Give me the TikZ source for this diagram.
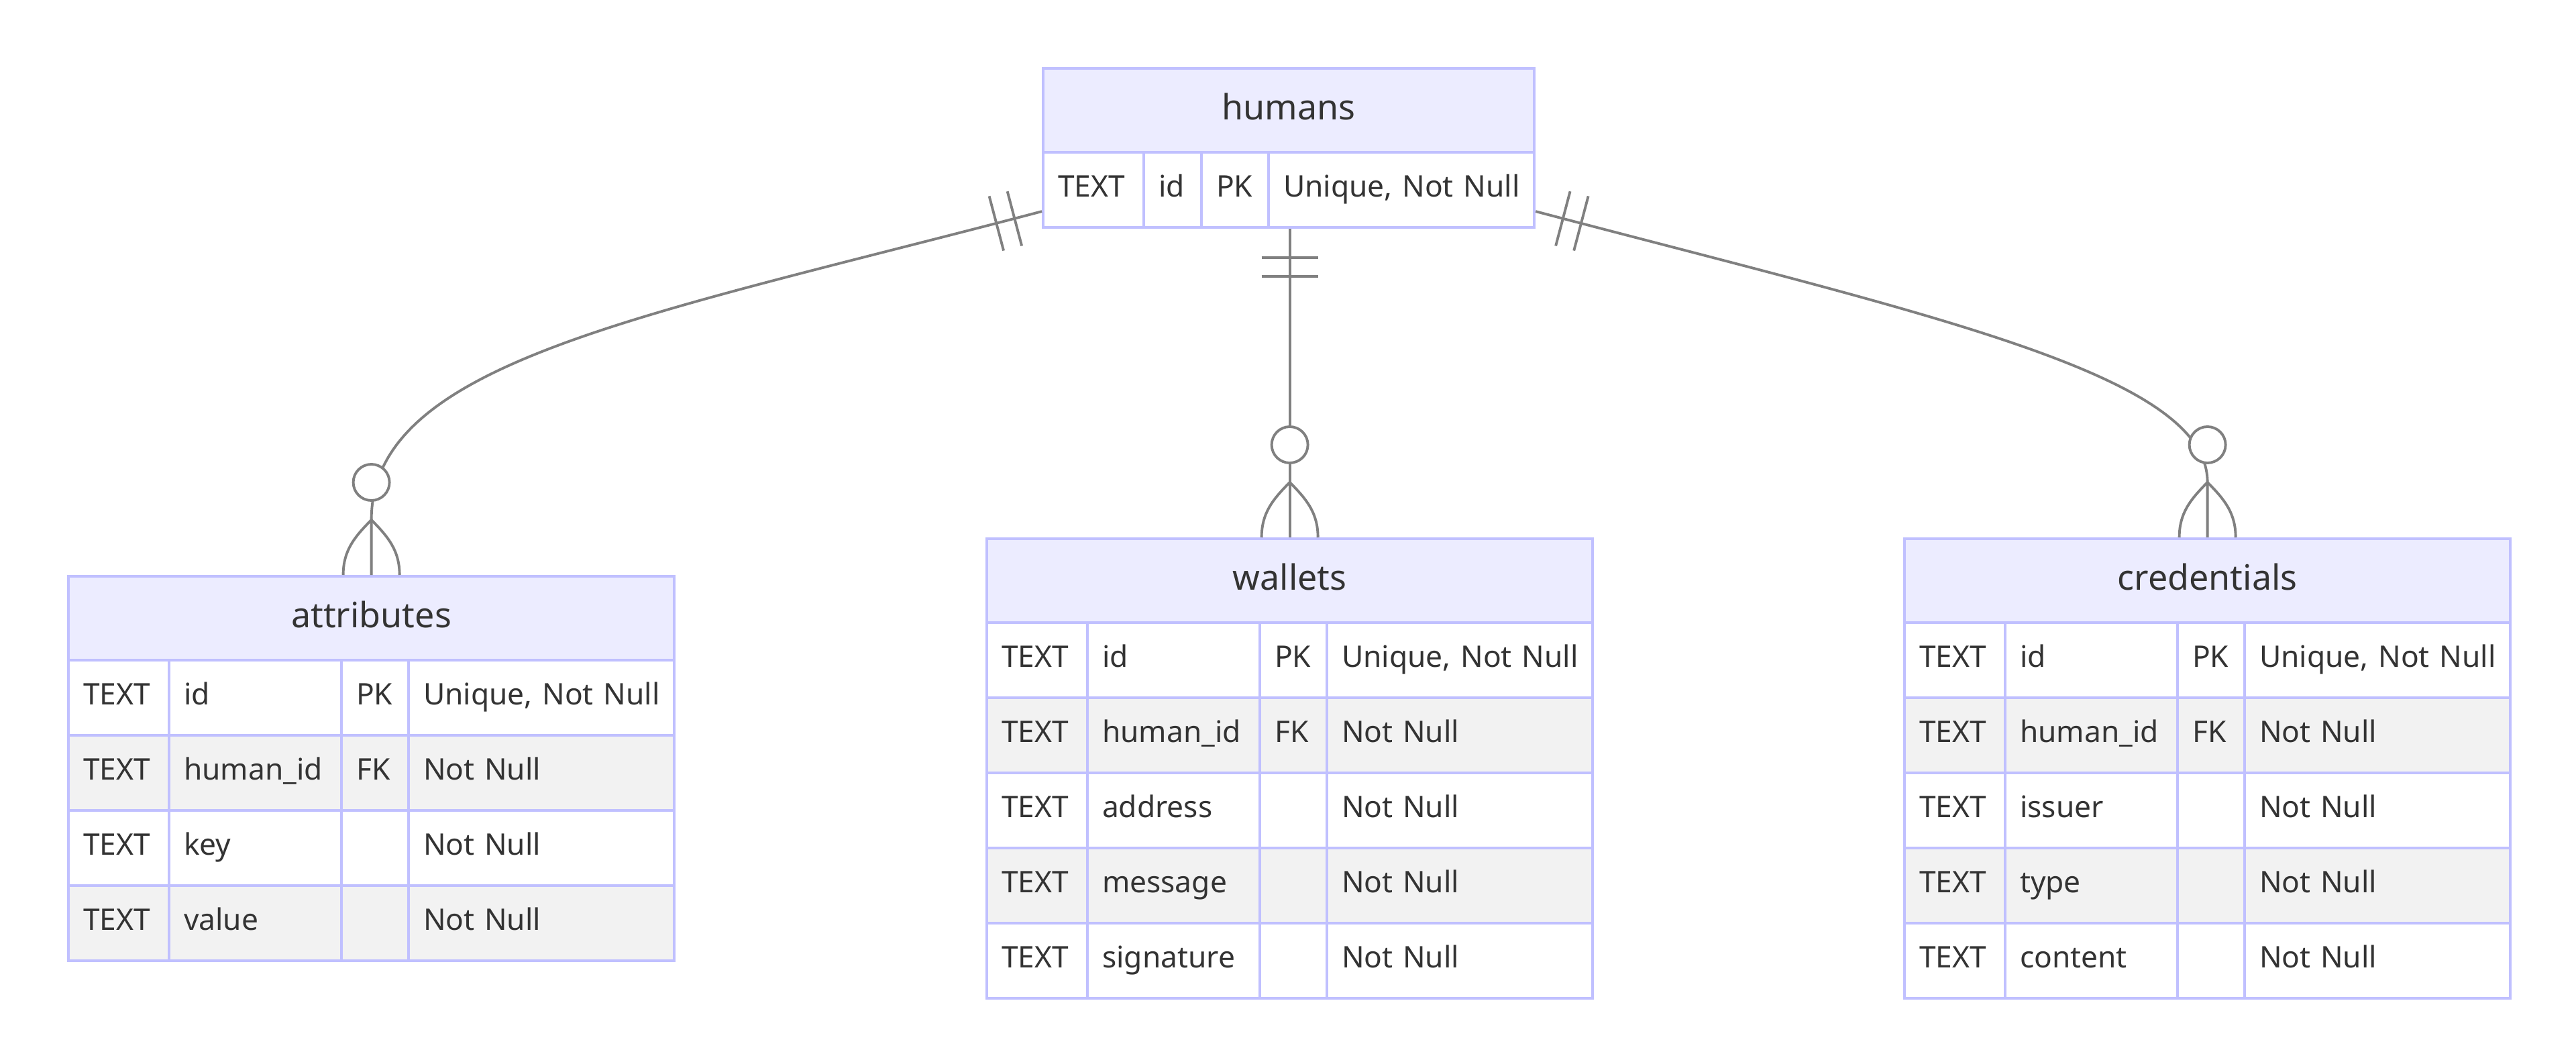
\documentclass[tikz,border=0pt]{standalone}
\usepackage{fontspec}
\setmainfont{Noto Sans}
\usepackage{tikz}
\usetikzlibrary{calc}
\definecolor{ERBorder}{RGB}{192,192,255}
\definecolor{ERHead}{RGB}{236,236,255}
\definecolor{ERRow}{RGB}{242,242,242}
\definecolor{ERLink}{RGB}{128,128,128}
\definecolor{ERText}{RGB}{51,51,51}

\begin{document}
\begin{tikzpicture}[
  head/.style={
    draw=ERBorder,
    fill=ERHead,
    line width=1.2pt,
    anchor=north west,
    minimum width=#1,
    minimum height=1.25cm,
    inner sep=0pt,
    text height=0.38cm,
    text depth=0.10cm,
    font=\fontsize{14.8}{17}\selectfont,
    text=ERText
  },
  cell/.style={
    draw=ERBorder,
    line width=1.2pt,
    anchor=north west,
    minimum height=1.12cm,
    inner xsep=0.22cm,
    inner ysep=0pt,
    text width=#1,
    text height=1.6ex,
    text depth=0.45ex,
    align=left,
    font=\fontsize{12.6}{15}\selectfont,
    text=ERText
  },
  relline/.style={
    draw=ERLink,
    line width=1.1pt
  },
  zerocirc/.style={
    circle,
    draw=ERLink,
    fill=white,
    line width=1.1pt,
    minimum size=0.54cm,
    inner sep=0pt
  }
]
\fill[white] (0,0) rectangle (38.40,-15.77);
\useasboundingbox (0,0) rectangle (38.40,-15.77);

% Tables
\node[head=7.32cm] (humans) at (15.53,-1.00) {humans};
\node[cell=1.06cm, fill=white] (humans-1-1) at (15.53,-2.25) {TEXT};
\node[cell=0.42cm, fill=white] (humans-1-2) at (17.03,-2.25) {id};
\node[cell=0.56cm, fill=white] (humans-1-3) at (17.89,-2.25) {PK};
\node[cell=3.52cm, fill=white] (humans-1-4) at (18.89,-2.25) {Unique,~Not~Null};

\node[head=9.03cm] (attributes) at (1.00,-8.57) {attributes};
\foreach \ty/\nm/\ky/\cm [count=\i] in {TEXT/id/PK/{Unique,~Not~Null},
    TEXT/human\_id/FK/Not~Null, TEXT/key//Not~Null, TEXT/value//Not~Null}{
  \pgfmathsetmacro{\ry}{-9.82-1.12*(\i-1)}
  \ifodd\i\def\rf{white}\else\def\rf{ERRow}\fi
  \node[cell=1.06cm, fill=\rf] (attributes-\i-1) at (1.00,\ry) {\ty};
  \node[cell=2.13cm, fill=\rf] (attributes-\i-2) at (2.50,\ry) {\nm};
  \node[cell=0.56cm, fill=\rf] (attributes-\i-3) at (5.07,\ry) {\ky};
  \node[cell=3.52cm, fill=\rf] (attributes-\i-4) at (6.07,\ry) {\cm};
}

\node[head=9.03cm] (wallets) at (14.69,-8.01) {wallets};
\foreach \ty/\nm/\ky/\cm [count=\i] in {TEXT/id/PK/{Unique,~Not~Null},
    TEXT/human\_id/FK/Not~Null, TEXT/address//Not~Null,
    TEXT/message//Not~Null, TEXT/signature//Not~Null}{
  \pgfmathsetmacro{\ry}{-9.26-1.12*(\i-1)}
  \ifodd\i\def\rf{white}\else\def\rf{ERRow}\fi
  \node[cell=1.06cm, fill=\rf] (wallets-\i-1) at (14.69,\ry) {\ty};
  \node[cell=2.13cm, fill=\rf] (wallets-\i-2) at (16.19,\ry) {\nm};
  \node[cell=0.56cm, fill=\rf] (wallets-\i-3) at (18.76,\ry) {\ky};
  \node[cell=3.52cm, fill=\rf] (wallets-\i-4) at (19.76,\ry) {\cm};
}

\node[head=9.03cm] (credentials) at (28.37,-8.01) {credentials};
\foreach \ty/\nm/\ky/\cm [count=\i] in {TEXT/id/PK/{Unique,~Not~Null},
    TEXT/human\_id/FK/Not~Null, TEXT/issuer//Not~Null,
    TEXT/type//Not~Null, TEXT/content//Not~Null}{
  \pgfmathsetmacro{\ry}{-9.26-1.12*(\i-1)}
  \ifodd\i\def\rf{white}\else\def\rf{ERRow}\fi
  \node[cell=1.06cm, fill=\rf] (credentials-\i-1) at (28.37,\ry) {\ty};
  \node[cell=2.13cm, fill=\rf] (credentials-\i-2) at (29.87,\ry) {\nm};
  \node[cell=0.56cm, fill=\rf] (credentials-\i-3) at (32.44,\ry) {\ky};
  \node[cell=3.52cm, fill=\rf] (credentials-\i-4) at (33.44,\ry) {\cm};
}

% Connector ends
\coordinate (hleft)  at ([yshift=-0.32cm]humans-1-1.west);
\coordinate (hright) at ([yshift=-0.32cm]humans-1-4.east);
\coordinate (hbot)   at (wallets.north |- humans-1-4.south);
\coordinate (aapex)  at ([yshift=0.82cm]attributes.north);
\coordinate (wapex)  at ([yshift=0.82cm]wallets.north);
\coordinate (capex)  at ([yshift=0.82cm]credentials.north);

% humans ||--o{ attributes
\draw[relline] (hleft) .. controls +(-6.00,-1.58) and +(0,2.35) .. (aapex) -- (attributes.north);
\draw[relline] (hleft) ++(194.8:0.42) ++(104.8:0.42) -- ++(284.8:0.84);
\draw[relline] (hleft) ++(194.8:0.70) ++(104.8:0.42) -- ++(284.8:0.84);
\draw[relline] (aapex) to[out=-135,in=90] ([xshift=-0.42cm]attributes.north);
\draw[relline] (aapex) to[out=-45,in=90] ([xshift=0.42cm]attributes.north);
\node[zerocirc] (azero) at ([yshift=1.38cm]attributes.north) {};

% humans ||--o{ wallets
\draw[relline] (hbot) -- (wapex) -- (wallets.north);
\draw[relline] ([shift={(-0.42,-0.43)}]hbot) -- ++(0.84,0);
\draw[relline] ([shift={(-0.42,-0.71)}]hbot) -- ++(0.84,0);
\draw[relline] (wapex) to[out=-135,in=90] ([xshift=-0.42cm]wallets.north);
\draw[relline] (wapex) to[out=-45,in=90] ([xshift=0.42cm]wallets.north);
\node[zerocirc] (wzero) at ([yshift=1.38cm]wallets.north) {};

% humans ||--o{ credentials
\draw[relline] (hright) .. controls +(6.00,-1.58) and +(0,1.60) .. (capex) -- (credentials.north);
\draw[relline] (hright) ++(-14.8:0.42) ++(75.2:0.42) -- ++(255.2:0.84);
\draw[relline] (hright) ++(-14.8:0.70) ++(75.2:0.42) -- ++(255.2:0.84);
\draw[relline] (capex) to[out=-135,in=90] ([xshift=-0.42cm]credentials.north);
\draw[relline] (capex) to[out=-45,in=90] ([xshift=0.42cm]credentials.north);
\node[zerocirc] (czero) at ([yshift=1.38cm]credentials.north) {};

\end{tikzpicture}
\end{document}
